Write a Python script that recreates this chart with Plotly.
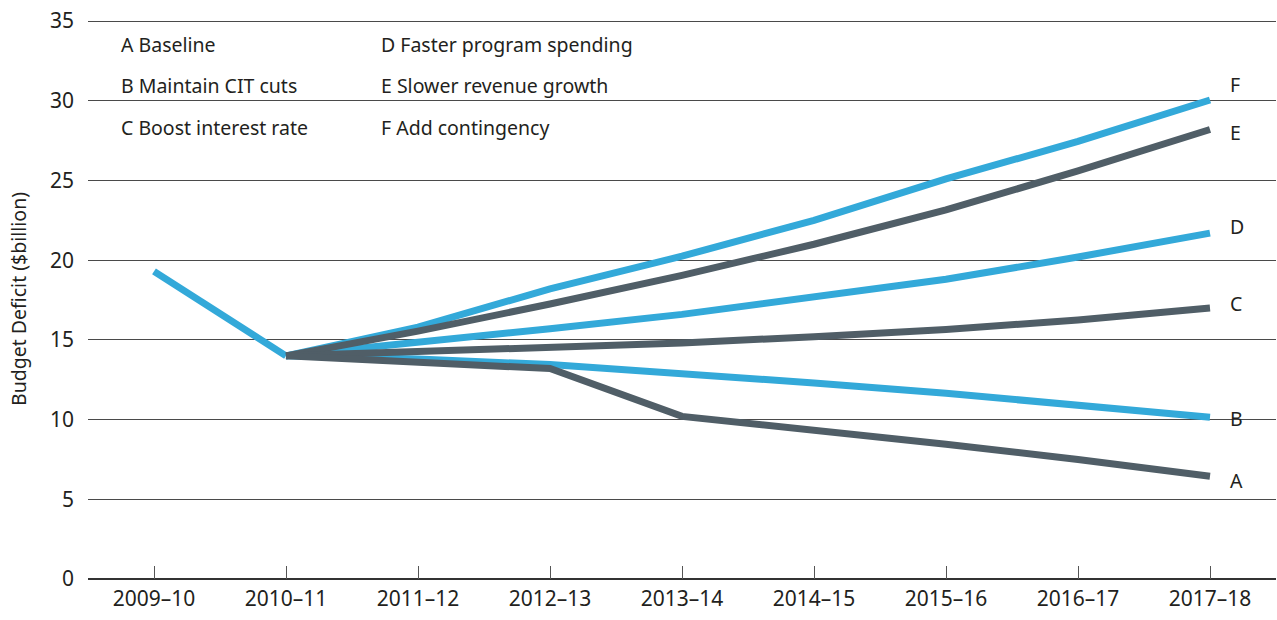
import plotly.graph_objects as go

# 数据
years = ["2009–10", "2010–11", "2011–12", "2012–13", "2013–14",
         "2014–15", "2015–16", "2016–17", "2017–18"]
history = [19.3, 14.0]

scenario_keys = ["A", "B", "C", "D", "E", "F"]
scenario_names = ["Baseline", "Maintain CIT cuts", "Boost interest rate",
                  "Faster program spending", "Slower revenue growth", "Add contingency"]
a_vals = [14.0, 13.6, 13.2, 10.2, 9.35, 8.45, 7.5, 6.45]
b_vals = [14.0, 13.8, 13.45, 12.9, 12.3, 11.65, 10.95, 10.15]
c_vals = [14.0, 14.25, 14.5, 14.8, 15.2, 15.65, 16.25, 17.0]
d_vals = [14.0, 14.8, 15.7, 16.6, 17.65, 18.8, 20.2, 21.7]
e_vals = [14.0, 15.55, 17.25, 19.05, 21.0, 23.15, 25.6, 28.2]
f_vals = [14.0, 15.8, 18.2, 20.25, 22.5, 25.1, 27.45, 30.05]
label_y = [6.2, 10.1, 17.3, 22.1, 28.0, 31.0]

BLUE = "#33a9d9"
DARK = "#505e67"
TXT = "#231f20"
FONT = "Noto Sans"

series = dict(zip(scenario_keys, [a_vals, b_vals, c_vals, d_vals, e_vals, f_vals]))
colors = {"A": DARK, "B": BLUE, "C": DARK, "D": BLUE, "E": DARK, "F": BLUE}

fig = go.Figure()

fig.add_trace(go.Scatter(x=years[:2], y=history, mode="lines",
                         line=dict(color=BLUE, width=7), showlegend=False))

# 先画蓝线，再画深色线
for k in ["F", "D", "B", "E", "C", "A"]:
    fig.add_trace(go.Scatter(
        x=years[1:], y=series[k], mode="lines", name=k,
        line=dict(color=colors[k], width=7), showlegend=False
    ))

# 右侧字母标注
for k, ly in zip(scenario_keys, label_y):
    fig.add_annotation(x=years[-1], y=ly, text=k, xref="x", yref="y",
                       showarrow=False, xanchor="left", xshift=18,
                       font=dict(family=FONT, size=19.5, color=TXT))

# 图例文字
legend_y = [33.55, 30.95, 28.3]
for i, (k, n) in enumerate(zip(scenario_keys, scenario_names)):
    col, row = divmod(i, 3)
    fig.add_annotation(x=[0.026, 0.245][col], y=legend_y[row], text=f"{k} {n}",
                       xref="paper", yref="y", showarrow=False, xanchor="left",
                       font=dict(family=FONT, size=19.5, color=TXT))

fig.update_layout(
    width=1277, height=620,
    margin=dict(l=88, r=1, t=19, b=41),
    plot_bgcolor="white", paper_bgcolor="white",
    font=dict(family=FONT, size=19.5, color=TXT),
)
fig.update_xaxes(
    type="category", range=[-0.5, 8.5], showgrid=False, automargin=False,
    ticks="inside", ticklen=13, tickcolor="#555", tickwidth=1,
    showline=False, tickfont=dict(size=21), ticklabelstandoff=5,
)
# 顶部留一点余量，35 的网格线才不会被裁掉
fig.update_yaxes(
    range=[0, 35.13], tickvals=[0, 5, 10, 15, 20, 25, 30, 35],
    showgrid=True, gridcolor="#4a4a4a", gridwidth=1,
    zeroline=True, zerolinecolor="#333", zerolinewidth=1.5, automargin=False,
    showline=False, ticks="", tickfont=dict(size=21), ticklabelstandoff=13,
    ticklabeloverflow="allow",
    title=dict(text="Budget Deficit ($billion)", font=dict(size=19.5), standoff=18),
)

# 去掉页面 body 的默认边距，隐藏工具栏
fig.write_html("out.html", config={"displayModeBar": False},
               post_script="document.body.style.margin='0';")
